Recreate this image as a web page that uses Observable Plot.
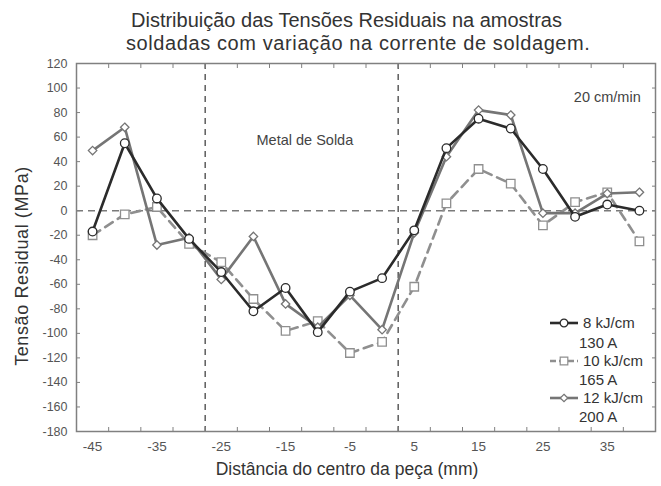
<!DOCTYPE html>
<html><head><meta charset="utf-8">
<script src="https://cdn.jsdelivr.net/npm/d3@7"></script>
<script src="https://cdn.jsdelivr.net/npm/@observablehq/plot@0.6"></script>
<style>
body{margin:0;background:#fff;font-family:"Liberation Sans",Arial,sans-serif;}
#wrap{position:relative;width:661px;height:486px;overflow:hidden;background:#fff;}
#title{position:relative;height:56px;color:#333;font-size:20px;}
#title div{position:absolute;white-space:nowrap;line-height:1;}
#legend{position:absolute;left:0;top:0;pointer-events:none;}
#chart svg{display:block;}
#ylabel{position:absolute;left:22px;top:266px;transform:translate(-50%,-50%) rotate(-90deg);white-space:nowrap;font-size:18px;letter-spacing:0.6px;color:#333;line-height:1;}
</style></head><body>
<div id="wrap">
<div id="title">
<div style="left:131px;top:10px">Distribuição das Tensões Residuais na amostras</div>
<div style="left:126px;top:33px;letter-spacing:0.6px">soldadas com variação na corrente de soldagem.</div>
</div>
<div id="chart"></div>
<div id="ylabel">Tensão Residual (MPa)</div>
</div>
<script>
// ---- data ----
const positions = [-45,-40,-35,-30,-25,-20,-15,-10,-5,0,5,10,15,20,25,30,35,40];
const s8kJ  = [-17,55,10,-23,-50,-82,-63,-99,-66,-55,-16,51,75,67,34,-5,5,0];
const s10kJ = [-20,-3,3,-27,-42,-72,-98,-90,-116,-107,-62,6,34,22,-12,7,15,-25];
const s12kJ = [49,68,-28,-22,-56,-21,-76,-95,-69,-97,-18,44,82,78,-2,-2,14,15];
const seriesNames = ["8 kJ/cm", "10 kJ/cm", "12 kJ/cm"];
const currents = ["130 A", "165 A", "200 A"];
const yTicks = [-180,-160,-140,-120,-100,-80,-60,-40,-20,0,20,40,60,80,100,120];
const xLabels = [-45,-35,-25,-15,-5,5,15,25,35];
const xTickMarks = [-42.5,-37.5,-32.5,-27.5,-22.5,-17.5,-12.5,-7.5,-2.5,2.5,7.5,12.5,17.5,22.5,27.5,32.5,37.5];
const weldBounds = [-27.5, 2.5];
const xDomain = [-47.5, 42.5];
const yDomain = [-180, 120];
const notes = [{label: "Metal de Solda", x: -12, y: 57}, {label: "20 cm/min", x: 35, y: 92}];

const styles = [
  {stroke: "#2b2b2b", dash: null, symbol: "circle", r: 4.3},
  {stroke: "#8f8f8f", dash: "9,6", symbol: "square", r: 4.8},
  {stroke: "#757575", dash: null, symbol: "diamond2", r: 3.8}
];
const values = [s8kJ, s10kJ, s12kJ];
const table = values.map(v => positions.map((x, i) => ({x, y: v[i]})));

const font = '"Liberation Sans", Arial, sans-serif';
const fmt = d => String(d);

const seriesMarks = [1, 2, 0].flatMap(k => [
  Plot.line(table[k], {x: "x", y: "y", stroke: styles[k].stroke, strokeWidth: 2.6, strokeDasharray: styles[k].dash}),
  Plot.dot(table[k], {x: "x", y: "y", symbol: styles[k].symbol, r: styles[k].r, fill: "white", stroke: styles[k].stroke, strokeWidth: 1.3})
]);

const chart = Plot.plot({
  width: 661, height: 430,
  marginLeft: 76, marginRight: 6, marginTop: 7, marginBottom: 55,
  style: {fontFamily: font, background: "white", overflow: "visible"},
  x: {domain: xDomain, axis: null},
  y: {domain: yDomain, axis: null},
  marks: [
    Plot.ruleY([0], {stroke: "#7a7a7a", strokeWidth: 1.5, strokeDasharray: "7,5"}),
    Plot.ruleX(weldBounds, {stroke: "#444", strokeWidth: 1.3, strokeDasharray: "6,5"}),
    Plot.frame({stroke: "#808080", strokeWidth: 1.5}),
    Plot.axisY(yTicks, {anchor: "left", tickSize: 0, tickPadding: 9, tickFormat: fmt, fontSize: 12.5, color: "#555", label: null}),
    Plot.axisY(yTicks, {anchor: "left", tickSize: -4, tickFormat: () => "", stroke: "#808080", label: null}),
    Plot.axisY(yTicks, {anchor: "right", tickSize: -4, tickFormat: () => "", stroke: "#808080", label: null}),
    Plot.axisX(xLabels, {anchor: "bottom", tickSize: 0, tickPadding: 10, tickFormat: fmt, fontSize: 13.5, color: "#555", label: null}),
    Plot.axisX(xTickMarks, {anchor: "bottom", tickSize: -4, tickFormat: () => "", stroke: "#808080", label: null}),
    Plot.axisX(xTickMarks, {anchor: "top", tickSize: -4, tickFormat: () => "", stroke: "#808080", label: null}),
    ...seriesMarks,
    Plot.text(notes, {x: "x", y: "y", text: "label", fontSize: 14.5, fill: "#444"}),
    Plot.text(["Distância do centro da peça (mm)"], {frameAnchor: "bottom", dx: -19, dy: 43, fontSize: 17.5, fill: "#333"})
  ]
});
document.getElementById("chart").appendChild(chart);

// ---- legend (overlay, inside the plot area, lower right) ----
const leg = d3.select("#wrap").append("svg").attr("id", "legend")
  .attr("width", 661).attr("height", 486).style("font-family", font);
const rowY = [323, 361, 398];
const subY = [343, 380, 417];
const symGen = {circle: d3.symbolCircle, square: d3.symbolSquare, diamond2: d3.symbolDiamond2};
styles.forEach((s, k) => {
  const y = rowY[k];
  leg.append("line").attr("x1", 550).attr("x2", 578).attr("y1", y).attr("y2", y)
    .attr("stroke", s.stroke).attr("stroke-width", 2.6).attr("stroke-dasharray", s.dash ? "6,3" : null);
  leg.append("path").attr("transform", `translate(564,${y})`)
    .attr("d", d3.symbol(symGen[s.symbol], Math.PI * s.r * s.r * 0.8)())
    .attr("fill", "white").attr("stroke", s.stroke).attr("stroke-width", 1.2);
  leg.append("text").attr("x", 583).attr("y", y).attr("dy", "0.35em").attr("font-size", 15).attr("fill", "#333").text(seriesNames[k]);
  leg.append("text").attr("x", 579).attr("y", subY[k]).attr("dy", "0.35em").attr("font-size", 15).attr("fill", "#333").text(currents[k]);
});
</script>
</body></html>
